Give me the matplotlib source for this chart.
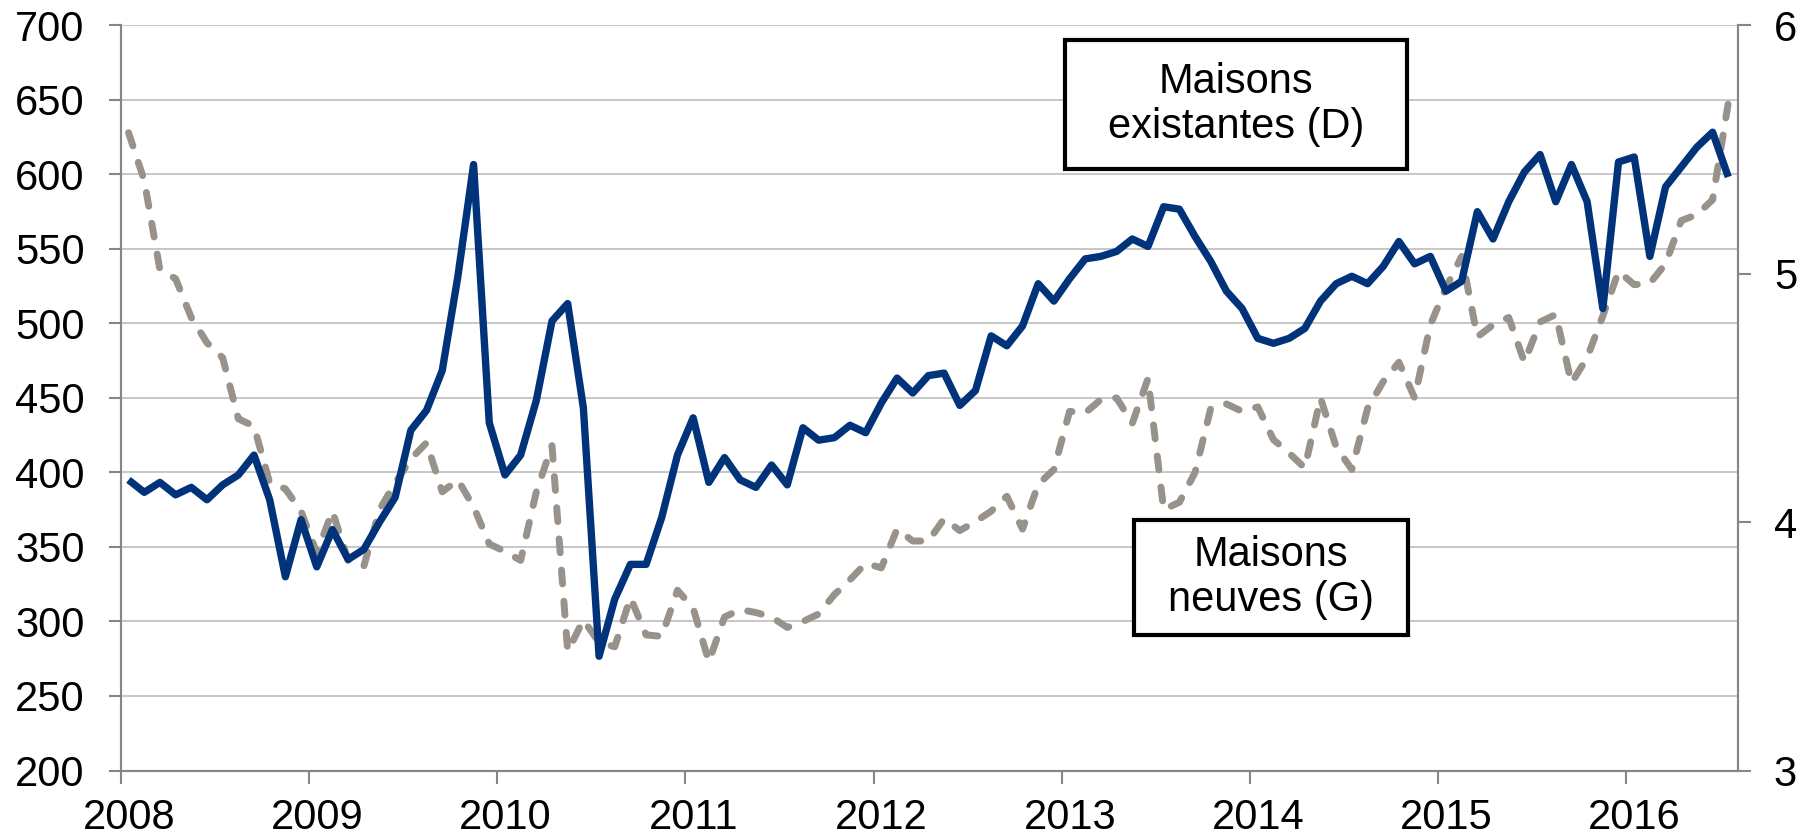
import numpy as np
import matplotlib
matplotlib.use("Agg")
import matplotlib.pyplot as plt
from matplotlib.patches import Rectangle
from matplotlib.transforms import ScaledTranslation

plt.rcParams['font.family'] = ['Liberation Sans', 'DejaVu Sans']

# monthly data, Jan 2008 -> Jul 2016
# new homes (thousands, left axis)
neuves = [628, 596, 536, 530, 504, 487, 477, 436, 431, 393, 389, 374,
          346, 374, 341, 337, 375, 393, 409, 420, 387, 395, 377, 352,
          347, 341, 387, 418, 280, 301, 286, 283, 316, 291, 290, 321,
          309, 273, 303, 308, 306, 303, 296, 300, 305, 318, 328, 339,
          336, 362, 354, 354, 369, 361, 367, 374, 384, 362, 392, 402,
          441, 440, 449, 450, 433, 463, 375, 380, 400, 443, 446, 441,
          444, 422, 413, 403, 450, 417, 402, 443, 461, 474, 450, 499,
          524, 545, 491, 499, 504, 474, 501, 506, 460, 477, 505, 535,
          526, 527, 540, 569, 573, 583, 648]
# existing homes (millions, right axis)
existantes = [4.17, 4.12, 4.16, 4.11, 4.14, 4.09, 4.15, 4.19, 4.27, 4.09, 3.78, 4.01,
              3.82, 3.97, 3.85, 3.89, 4.00, 4.10, 4.37, 4.45, 4.61, 4.99, 5.44, 4.40,
              4.19, 4.27, 4.49, 4.81, 4.88, 4.46, 3.46, 3.69, 3.83, 3.83, 4.02, 4.27,
              4.42, 4.16, 4.26, 4.17, 4.14, 4.23, 4.15, 4.38, 4.33, 4.34, 4.39, 4.36,
              4.48, 4.58, 4.52, 4.59, 4.60, 4.47, 4.53, 4.75, 4.71, 4.79, 4.96, 4.89,
              4.98, 5.06, 5.07, 5.09, 5.14, 5.11, 5.27, 5.26, 5.15, 5.05, 4.93, 4.86,
              4.74, 4.72, 4.74, 4.78, 4.89, 4.96, 4.99, 4.96, 5.03, 5.13, 5.04, 5.07,
              4.93, 4.97, 5.25, 5.14, 5.29, 5.41, 5.48, 5.29, 5.44, 5.29, 4.86, 5.45,
              5.47, 5.07, 5.35, 5.43, 5.51, 5.57, 5.39]
years = [str(y) for y in range(2008, 2017)]
left_ticks = list(range(200, 701, 50))
right_ticks = [3, 4, 5, 6]

W, H = 1811, 840
fig = plt.figure(figsize=(W / 100, H / 100), dpi=100)
x0, x1, ytop, ybot = 120.7, 1737.7, 25.4, 770.5
ax = fig.add_axes([x0 / W, 1 - ybot / H, (x1 - x0) / W, (ybot - ytop) / H])

months = np.arange(len(neuves)) + 0.5
spine_col = '#868686'

ax.plot(months, neuves, color='#98928A', lw=5, dashes=(2.0, 2.5),
        dash_capstyle='round', solid_joinstyle='round', zorder=3)
ax.set_ylim(200, 700)
ax.set_xlim(0, 103.1)
ax.set_yticks(left_ticks)
ax.set_xticks(np.arange(len(years)) * 12)
ax.set_xticklabels(years)
ax.grid(axis='y', color='#BEBEBE', lw=1.2)
ax.set_axisbelow(True)
ax.spines['top'].set_visible(False)
for s in ['left', 'bottom', 'right']:
    ax.spines[s].set_color(spine_col)
    ax.spines[s].set_linewidth(1.5)
ax.tick_params(axis='y', length=9, width=1.5, color=spine_col, pad=17, labelsize=30)
ax.tick_params(axis='x', length=9, width=1.5, color=spine_col, pad=10.5, labelsize=30)
shift = ScaledTranslation(8 / 100, 0, fig.dpi_scale_trans)
for lab in ax.get_xticklabels():
    lab.set_transform(lab.get_transform() + shift)

ax2 = ax.twinx()
ax2.plot(months, existantes, color='#00337A', lw=5.3, solid_joinstyle='round',
         solid_capstyle='butt', zorder=4)
ax2.set_ylim(3, 6)
ax2.set_yticks(right_ticks)
ax2.spines['top'].set_visible(False)
for s in ['left', 'bottom', 'right']:
    ax2.spines[s].set_color(spine_col)
    ax2.spines[s].set_linewidth(1.5)
ax2.tick_params(axis='y', length=9, width=1.5, color=spine_col, pad=17, labelsize=30)

# label boxes
def label_box(xa, xb, ya, yb, text):
    fig.patches.append(Rectangle((xa / W, 1 - yb / H), (xb - xa) / W, (yb - ya) / H,
                                 transform=fig.transFigure, facecolor='white',
                                 edgecolor='black', lw=3, zorder=10))
    fig.text((xa + xb) / 2 / W, 1 - (ya + yb) / 2 / H, text, ha='center', va='center',
             fontsize=30, linespacing=1.15, zorder=11)

label_box(1065, 1407, 40, 169, 'Maisons\nexistantes (D)')
label_box(1134, 1408, 520, 635, 'Maisons\nneuves (G)')

fig.savefig('out.png', dpi=100)
